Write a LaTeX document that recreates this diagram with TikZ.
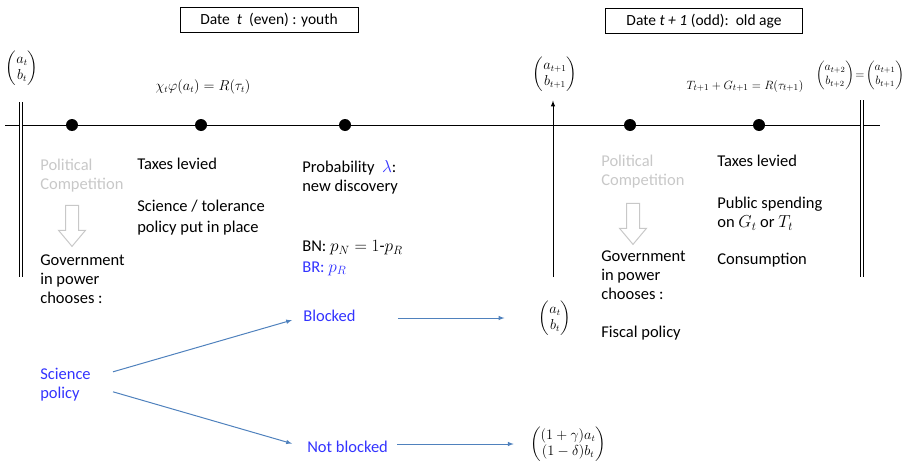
\documentclass[tikz,border=0pt]{standalone}
\usepackage{amsmath}
\usepackage{fontspec}
\setmainfont{Carlito}
\usepackage{tikz}
\usetikzlibrary{arrows,shapes.arrows}
\definecolor{txtblue}{RGB}{51,51,255}
\definecolor{arrblue}{RGB}{79,129,189}
\definecolor{fadegray}{RGB}{200,200,200}

\begin{document}
\begin{tikzpicture}[x=1pt,y=-1pt,>=latex,semithick]
\tikzstyle{every node}=[font=\fontsize{16.5}{19}\selectfont,inner sep=0pt]
  	\tikzstyle{txt}=[anchor=north west,align=left]
\tikzstyle{mathnode}=[font=\fontsize{13.5}{16}\selectfont]
\tikzstyle{datebox}=[draw,line width=1pt,minimum height=25pt,font=\fontsize{15.5}{18}\selectfont]
\tikzstyle{dot}=[circle,fill=black,minimum size=12pt]
\tikzstyle{govarrow}=[single arrow,draw=fadegray,line width=1pt,shape border rotate=270,
                      inner sep=6pt,minimum height=41pt,single arrow head extend=7pt,
                      single arrow tip angle=80]
\tikzstyle{sciarrow}=[->,arrblue,line width=1pt]
\useasboundingbox (0,0) rectangle (907,463);

% dates
\node [datebox,minimum width=178pt] (youth) at (269,20) {Date \ \textit{t} \ (even) : youth};
\node [datebox,minimum width=197pt] (oldage) at (704,21) {Date \textit{t + 1} (odd):\ \ old age};

% time line
\coordinate (lineL) at (5,125);
\coordinate (lineR) at (880,125);
\draw [line width=1pt] (lineL) -- (lineR);
\coordinate (barLtop) at (21,102);
\coordinate (barLbot) at (21,277);
\coordinate (barRtop) at (862,100);
\coordinate (barRbot) at (862,277);
\draw [double,double distance=2pt,line width=0.9pt] (barLtop) -- (barLbot);
\draw [double,double distance=2pt,line width=0.9pt] (barRtop) -- (barRbot);

\node [dot] (d1) at (72,125) {};
\node [dot] (d2) at (201,125) {};
\node [dot] (d3) at (345,125) {};
\node [dot] (d4) at (630,125) {};
\node [dot] (d5) at (759,125) {};

% states and budgets
\node [mathnode] (vecA) at (22,68) {$\begin{pmatrix} a_t\\ b_t\end{pmatrix}$};
\node [mathnode] (budY) at (203,87) {$\chi_t\varphi(a_t)=R(\tau_t)$};
\node [mathnode] (vecB) at (555,74) {$\begin{pmatrix} a_{t+1}\\ b_{t+1}\end{pmatrix}$};
\node [mathnode,font=\fontsize{13}{15}\selectfont] (budO) at (745,86) {$T_{t+1}+G_{t+1}=R(\tau_{t+1})$};
\node [mathnode,font=\fontsize{11.5}{14}\selectfont] (vecC) at (860,75) {$\begin{pmatrix} a_{t+2}\\ b_{t+2}\end{pmatrix}\!=\!\begin{pmatrix} a_{t+1}\\ b_{t+1}\end{pmatrix}$};

% youth
\node [txt,fadegray] (polY) at (40,158.5) {Political\\Competition};
\node [govarrow] (govY) at (72,222) {};
\node [txt] (chooseY) at (40,254) {Government\\in power\\chooses :};
\node [txt] (taxY) at (137,157.5) {Taxes levied};
\node [txt,font=\fontsize{16.5}{20.5}\selectfont] (sciY) at (137,200) {Science / tolerance\\policy put in place};
\node [txt] (prob) at (302,160.5) {Probability \ \textcolor{txtblue}{$\lambda$}:\\new discovery};
\node [txt] (bn) at (302,240.5) {BN: $p_N = 1$-$p_R$};
\node [txt,txtblue] (br) at (302,261.5) {BR: $p_R$};

% science policy tree
\node [txt,txtblue] (sci) at (40,367.5) {Science\\policy};
\node [txt,txtblue] (blocked) at (303,309.5) {Blocked};
\node [txt,txtblue] (notblocked) at (307,440.5) {Not blocked};
\node [mathnode] (keep) at (555,318) {$\begin{pmatrix} a_t\\ b_t\end{pmatrix}$};
\node [mathnode] (grow) at (568,444) {$\begin{pmatrix} (1+\gamma)a_t\\ (1-\delta)b_t\end{pmatrix}$};

\draw [sciarrow] ([shift={(22pt,12.5pt)}]sci.east) -- ([shift={(-11pt,-4.5pt)}]blocked.west);
\draw [sciarrow] ([shift={(22pt,-7.5pt)}]sci.east) -- ([shift={(-15pt,3pt)}]notblocked.west);
\draw [sciarrow,shorten <=42pt,shorten >=34pt] (blocked.east |- keep.west) -- (keep.west);
\draw [sciarrow,shorten <=9pt,shorten >=16pt] (notblocked.east |- grow.west) -- (grow.west);

\coordinate (upBot) at (553,277);
\draw [->,line width=1pt,shorten >=9pt] (upBot) -- (vecB.south -| upBot);

% old age
\node [txt,fadegray] (polO) at (601,154.5) {Political\\Competition};
\node [govarrow] (govO) at (633,220) {};
\node [txt] (chooseO) at (601,250) {Government\\in power\\chooses :};
\node [txt] (fiscal) at (601,325.5) {Fiscal policy};
\node [txt] (taxO) at (717,154.5) {Taxes levied};
\node [txt] (spend) at (717,197) {Public spending\\on $G_t$ or $T_t$};
\node [txt] (cons) at (717,252.5) {Consumption};

	\end{tikzpicture}
\end{document}
